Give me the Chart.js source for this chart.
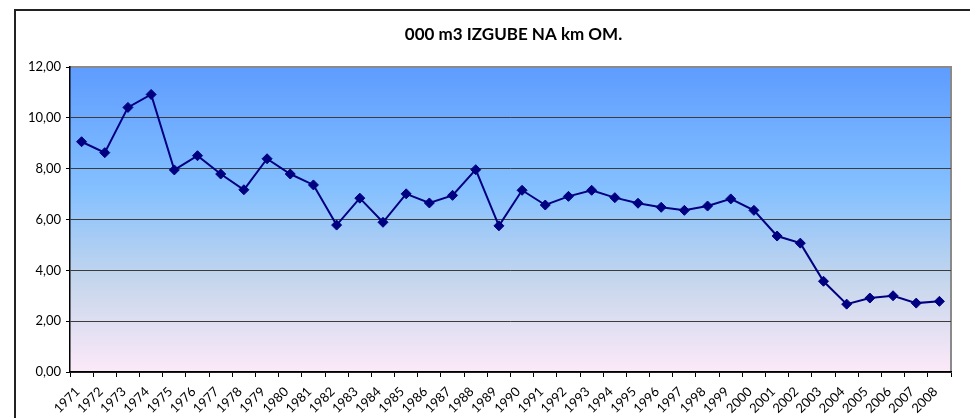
<!DOCTYPE html>
<html><head><meta charset="utf-8">
<script src="https://cdn.jsdelivr.net/npm/chart.js@4/dist/chart.umd.min.js"></script>
<style>
html,body{margin:0;padding:0;background:#fff;overflow:hidden;width:970px;height:418px;}
#wrap{position:absolute;left:0;top:0;width:970px;height:418px;}
#frame{position:absolute;left:14px;top:9px;width:1000px;height:500px;border:2px solid #222;box-sizing:border-box;pointer-events:none;}
</style></head><body>
<div id="wrap"><canvas id="c" width="970" height="418"></canvas></div>
<div id="frame"></div>
<script>
const chartTitle = '000 m3 IZGUBE NA km OM.';
const categories = ['1971','1972','1973','1974','1975','1976','1977','1978','1979','1980',
  '1981','1982','1983','1984','1985','1986','1987','1988','1989','1990',
  '1991','1992','1993','1994','1995','1996','1997','1998','1999','2000',
  '2001','2002','2003','2004','2005','2006','2007','2008'];
const lossValues = [9.06, 8.63, 10.41, 10.92, 7.95, 8.51, 7.79, 7.17, 8.39, 7.79,
  7.36, 5.78, 6.84, 5.89, 7.01, 6.65, 6.95, 7.96, 5.75, 7.15,
  6.57, 6.91, 7.15, 6.86, 6.64, 6.48, 6.36, 6.53, 6.81, 6.36,
  5.35, 5.07, 3.57, 2.67, 2.91, 3.00, 2.71, 2.78];
const yTicks = [0, 2, 4, 6, 8, 10, 12];

const FONT = 'Lato, "Open Sans", "Liberation Sans", sans-serif';

const plotBackground = {
  id: 'plotBackground',
  beforeDraw(chart) {
    const {ctx, chartArea: a} = chart;
    const g = ctx.createLinearGradient(0, a.top, 0, a.bottom);
    g.addColorStop(0, '#5E9CFF');
    g.addColorStop(0.40, '#84C0FF');
    g.addColorStop(0.70, '#C5D6EC');
    g.addColorStop(1, '#FDE9F8');
    ctx.save();
    ctx.fillStyle = g;
    ctx.fillRect(a.left, a.top, a.right - a.left, a.bottom - a.top);
    ctx.strokeStyle = '#8a8a8a';
    ctx.lineWidth = 2;
    ctx.beginPath();
    ctx.moveTo(a.left, a.top);
    ctx.lineTo(a.right, a.top);
    ctx.lineTo(a.right, a.bottom);
    ctx.stroke();
    ctx.restore();
  }
};

const titlePlugin = {
  id: 'customTitle',
  afterDraw(chart) {
    const {ctx, chartArea: a} = chart;
    ctx.save();
    ctx.font = 'bold 17px ' + FONT;
    ctx.fillStyle = '#000';
    ctx.textAlign = 'center';
    ctx.textBaseline = 'middle';
    ctx.fillText(chartTitle, (a.left + a.right) / 2 + 3, 35);
    ctx.restore();
  }
};

new Chart(document.getElementById('c'), {
  type: 'line',
  data: {
    labels: categories,
    datasets: [{
      data: lossValues,
      borderColor: '#000080',
      backgroundColor: '#000080',
      borderWidth: 2,
      pointStyle: 'rectRot',
      pointRadius: 5,
      pointHoverRadius: 5,
      pointBorderWidth: 1,
      fill: false,
      tension: 0
    }]
  },
  options: {
    responsive: false,
    devicePixelRatio: 1,
    animation: false,
    layout: { padding: { left: 0, right: 19, top: 67, bottom: 0 } },
    plugins: { legend: { display: false }, title: { display: false }, tooltip: { enabled: false } },
    scales: {
      x: {
        type: 'category',
        offset: true,
        grid: { offset: true, drawOnChartArea: false, drawTicks: true, tickLength: 5, color: '#000', tickColor: '#000' },
        border: { color: '#000', width: 1.5 },
        ticks: { minRotation: 45, maxRotation: 45, autoSkip: false, color: '#000', padding: 7, labelOffset: -4,
                 font: { family: FONT, size: 13 } },
        afterFit(s) { s.height = 46; }
      },
      y: {
        min: 0, max: 12,
        afterBuildTicks(s) { s.ticks = yTicks.map(v => ({ value: v })); },
        ticks: { color: '#000', padding: 5, font: { family: FONT, size: 13 },
                 callback: v => Number(v).toFixed(2).replace('.', ',') },
        grid: { color: c => (c.tick && c.tick.value === 12) ? 'rgba(0,0,0,0)' : '#3c3c3c',
                tickColor: '#000', tickLength: 4, lineWidth: 1 },
        border: { color: '#000', width: 1.5 },
        afterFit(s) { s.width = 70; }
      }
    }
  },
  plugins: [plotBackground, titlePlugin]
});
</script>
</body></html>
